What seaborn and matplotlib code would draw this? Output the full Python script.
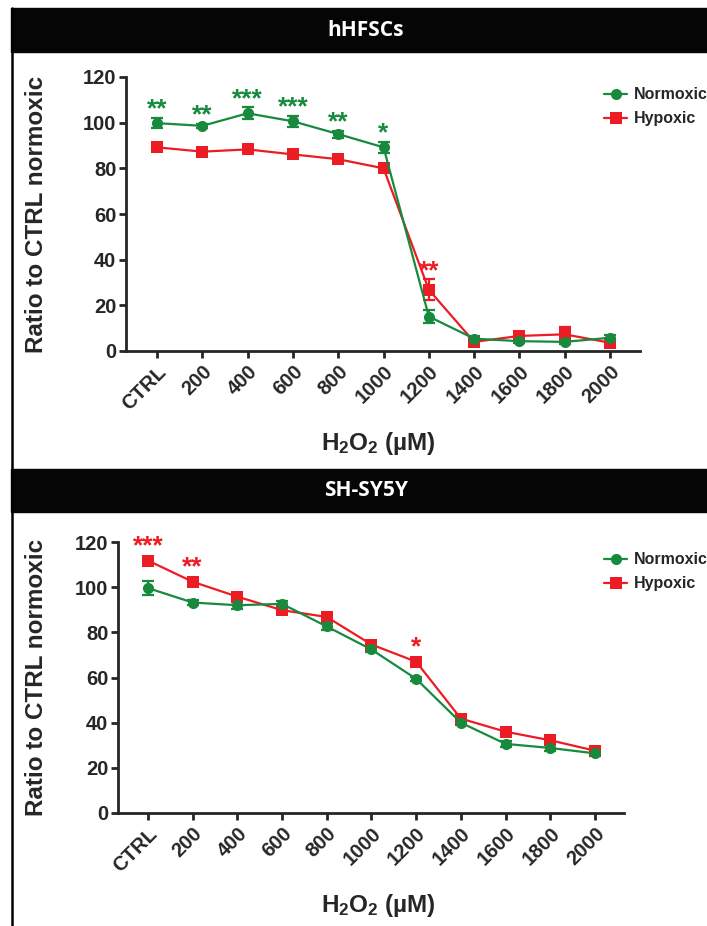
import numpy as np
import pandas as pd
import matplotlib
matplotlib.use('Agg')
import matplotlib.pyplot as plt
import seaborn as sns
from matplotlib.patches import Rectangle
from matplotlib.lines import Line2D

# doses on the x axis
doses = ['CTRL', '200', '400', '600', '800', '1000', '1200', '1400', '1600', '1800', '2000']

# hHFSCs panel
hf_norm = [99.8, 98.6, 104.1, 100.6, 95.0, 89.2, 15.1, 5.4, 4.3, 4.0, 5.8]
hf_norm_err = [2.3, 1.0, 2.6, 2.4, 1.5, 2.5, 3.0, 1.2, 1.0, 0.8, 1.2]
hf_hyp = [89.2, 87.3, 88.3, 86.1, 84.0, 80.0, 26.8, 4.0, 6.6, 7.3, 3.6]
hf_hyp_err = [1.0, 1.0, 1.0, 1.0, 1.0, 1.2, 4.6, 0.8, 1.2, 3.3, 0.8]
hf_stars_norm = {0: '**', 1: '**', 2: '***', 3: '***', 4: '**', 5: '*'}
hf_stars_hyp = {6: '**'}

# SH-SY5Y panel
sh_norm = [99.6, 93.2, 92.0, 92.6, 82.6, 72.4, 59.4, 40.0, 30.6, 28.8, 26.4]
sh_norm_err = [3.2, 1.0, 1.5, 1.2, 1.5, 1.2, 1.0, 1.2, 1.5, 1.2, 1.0]
sh_hyp = [111.8, 102.4, 95.8, 89.8, 86.8, 74.6, 67.0, 41.8, 36.0, 32.2, 27.6]
sh_hyp_err = [1.0, 1.0, 1.0, 1.0, 1.0, 1.0, 1.2, 1.0, 1.0, 1.0, 0.8]
sh_stars_norm = {}
sh_stars_hyp = {0: '***', 1: '**', 6: '*'}

GREEN = '#178a3e'
RED = '#ec1c24'

sns.set_style('ticks')
plt.rcParams['font.family'] = ['Liberation Sans', 'DejaVu Sans']
plt.rcParams['font.weight'] = 'bold'
plt.rcParams['mathtext.fontset'] = 'custom'
plt.rcParams['mathtext.rm'] = 'Liberation Sans:bold'
plt.rcParams['mathtext.bf'] = 'Liberation Sans:bold'

W, H = 707, 926
fig = plt.figure(figsize=(W / 100, H / 100), dpi=100)


def fx(px):
    return px / W


def fy(py):
    return 1 - py / H


def panel(box, xlim, title, bar, norm, norm_err, hyp, hyp_err, s_norm, s_hyp, leg_y, star_off):
    left, top, right, bottom = box
    # black header bar
    fig.patches.append(Rectangle((fx(11), fy(bar[1])), 1, fy(bar[0]) - fy(bar[1]),
                                 transform=fig.transFigure, color='#050505', zorder=0))
    fig.text(fx(366), fy((bar[0] + bar[1]) / 2), title, color='white', fontsize=15,
             fontweight='bold', ha='center', va='center', family='Open Sans')

    ax = fig.add_axes([fx(left), fy(bottom), fx(right - left), fy(top) - fy(bottom)])
    x = np.arange(len(doses))
    df = pd.DataFrame({
        'x': np.concatenate([x, x]),
        'val': norm + hyp,
        'cond': ['Normoxic'] * len(x) + ['Hypoxic'] * len(x),
    })
    for vals, errs, c in [(hyp, hyp_err, RED), (norm, norm_err, GREEN)]:
        ax.errorbar(x, vals, yerr=errs, fmt='none', ecolor=c, elinewidth=1.6,
                    capsize=4, capthick=1.6, zorder=2)
    sns.lineplot(data=df, x='x', y='val', hue='cond', style='cond',
                 palette={'Normoxic': GREEN, 'Hypoxic': RED},
                 markers={'Normoxic': 'o', 'Hypoxic': 's'}, dashes=False,
                 hue_order=['Hypoxic', 'Normoxic'],
                 markersize=8, markeredgewidth=0, linewidth=1.6, ax=ax, zorder=3)

    # significance stars, baseline sits below the visual centre of the asterisk
    for i, s in s_norm.items():
        ax.text(i, norm[i] + norm_err[i] + star_off - 6.6, s, color=GREEN, fontsize=19,
                fontweight='bold', ha='center', va='baseline')
    for i, s in s_hyp.items():
        ax.text(i, hyp[i] + hyp_err[i] + star_off - 6.6, s, color=RED, fontsize=19,
                fontweight='bold', ha='center', va='baseline')

    ax.set_xlim(*xlim)
    ax.set_ylim(0, 120)
    ax.set_yticks([0, 20, 40, 60, 80, 100, 120])
    ax.set_xticks(x)
    ax.set_xticklabels(doses, rotation=45, ha='right', rotation_mode='anchor')
    sns.despine(ax=ax)
    for sp in ['left', 'bottom']:
        ax.spines[sp].set_linewidth(2.0)
    ax.tick_params(axis='both', width=2.0, length=5, labelsize=14.5, pad=2)
    ax.tick_params(axis='x', pad=3)
    for lab in ax.get_xticklabels() + ax.get_yticklabels():
        lab.set_fontweight('bold')

    ax.set_ylabel('Ratio to CTRL normoxic', fontsize=17.5, fontweight='bold')
    ax.yaxis.set_label_coords((48 - left) / (right - left), 0.5)
    ax.set_xlabel(r'$\mathrm{H_2O_2}$ (µM)', fontsize=17.5, fontweight='bold')
    ax.xaxis.set_label_coords((378 - left) / (right - left), -(bar[2] - bottom) / (bottom - top))

    handles = [Line2D([], [], color=GREEN, marker='o', markersize=8, lw=1.6, mew=0),
               Line2D([], [], color=RED, marker='s', markersize=8, lw=1.6, mew=0)]
    ax.legend(handles, ['Normoxic', 'Hypoxic'], frameon=False, fontsize=11.5,
              loc='upper left', bbox_to_anchor=(fx(598), fy(leg_y)),
              bbox_transform=fig.transFigure, handlelength=1.4, handletextpad=0.45,
              labelspacing=0.55, borderaxespad=0)
    return ax


panel((126, 77, 640, 351), (-0.684, 10.66), 'hHFSCs', (8, 52, 430),
      hf_norm, hf_norm_err, hf_hyp, hf_hyp_err, hf_stars_norm, hf_stars_hyp, 81, 7.2)
panel((118, 542, 624, 813), (-0.67, 10.65), 'SH-SY5Y', (469, 512, 892),
      sh_norm, sh_norm_err, sh_hyp, sh_hyp_err, sh_stars_norm, sh_stars_hyp, 546, 8.7)

# left frame line
fig.add_artist(Line2D([fx(11.5), fx(11.5)], [fy(8), 0], transform=fig.transFigure,
                      color='black', lw=1.8))

fig.savefig('out.png', dpi=100)
